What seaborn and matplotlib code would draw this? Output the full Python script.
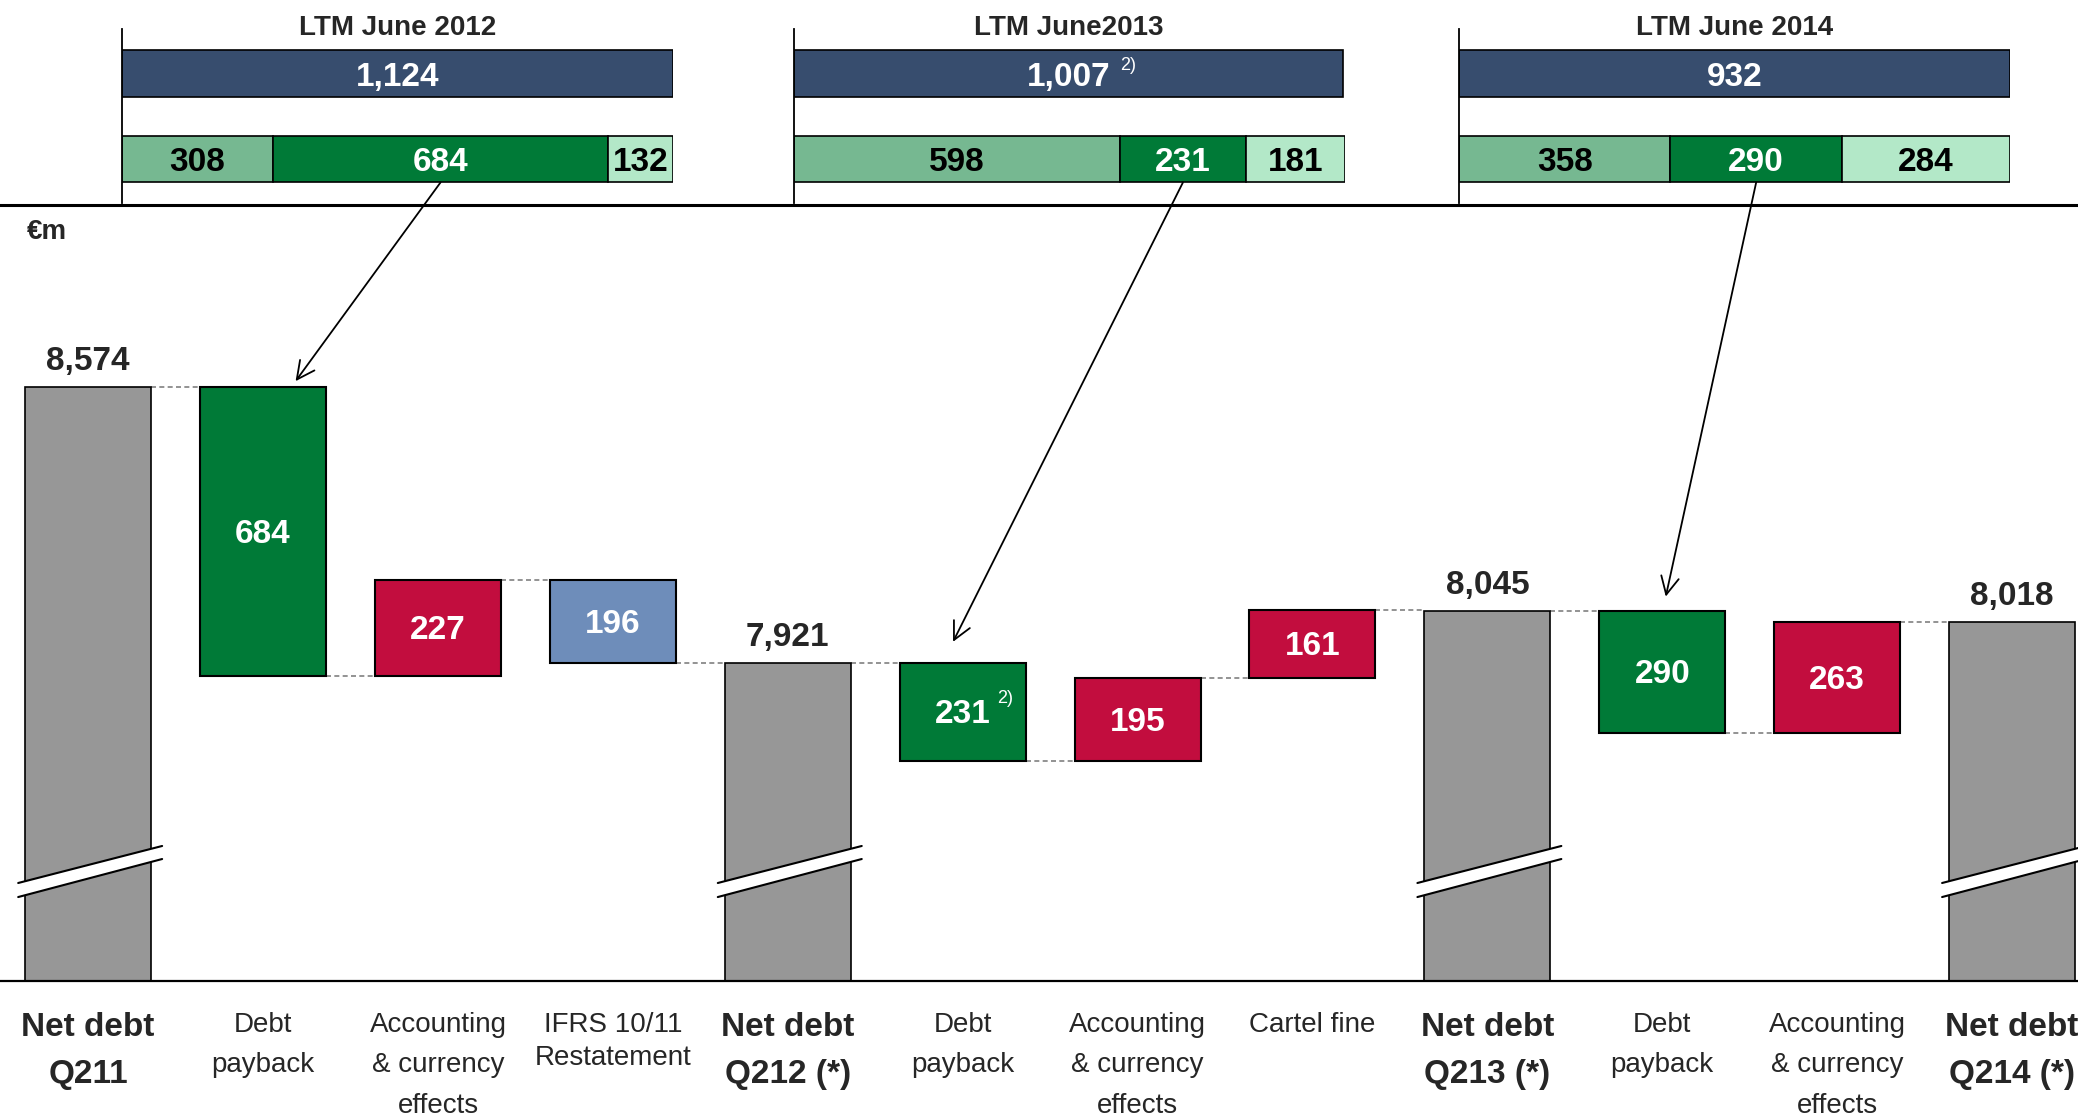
import numpy as np
import pandas as pd
import matplotlib
matplotlib.use("Agg")
import matplotlib.pyplot as plt
from matplotlib.patches import ConnectionPatch
import seaborn as sns

# estilo
sns.set_style("white")
plt.rcParams['font.family'] = ['Liberation Sans', 'DejaVu Sans']

# --------------------- datos ---------------------
step_labels = ["Net debt\nQ211", "Debt\npayback", "Accounting\n& currency\neffects",
               "IFRS 10/11\nRestatement", "Net debt\nQ212 (*)", "Debt\npayback",
               "Accounting\n& currency\neffects", "Cartel fine", "Net debt\nQ213 (*)",
               "Debt\npayback", "Accounting\n& currency\neffects", "Net debt\nQ214 (*)"]
step_kind = ["total", "decrease", "increase", "restatement", "total", "decrease",
             "increase", "increase", "total", "decrease", "increase", "total"]
step_values = [8574, -684, 227, -196, 7921, -231, 195, 161, 8045, -290, 263, 8018]
step_notes = {5: "2)"}

ltm_titles = ["LTM June 2012", "LTM June2013", "LTM June 2014"]
ltm_totals = [1124, 1007, 932]
ltm_splits = [[308, 684, 132], [598, 231, 181], [358, 290, 284]]
ltm_notes = {1: "2)"}
ltm_target = [1, 5, 9]   # barra de la cascada a la que apunta la flecha

kind_colors = {"total": "#979797", "decrease": "#007A37",
               "increase": "#C20D3E", "restatement": "#6E8DBA"}
navy = "#374D6E"
split_colors = ["#76B891", "#007A37", "#B3E8C8"]
split_text = ["black", "white", "black"]

y_floor = 7168

# --------------------- cálculo cascada ---------------------
level = 0
bottoms, heights, ends = [], [], []
for kind, v in zip(step_kind, step_values):
    if kind == "total":
        bottoms.append(y_floor)
        heights.append(v - y_floor)
        level = v
    else:
        start = level
        level = start + v
        bottoms.append(min(start, level))
        heights.append(abs(v))
    ends.append(level)
tops = [b + h for b, h in zip(bottoms, heights)]

df = pd.DataFrame({"step": range(len(step_values)), "height": heights})

fig = plt.figure(figsize=(20.78, 11.17), dpi=100)
ax = fig.add_axes([0, 0.12175, 1, 0.6947])

bw = 0.72
sns.barplot(data=df, x="step", y="height", bottom=np.array(bottoms), width=bw,
            color=kind_colors["total"], saturation=1, edgecolor="black",
            linewidth=1.5, errorbar=None, ax=ax, zorder=2)
for patch, kind in zip(ax.patches, step_kind):
    patch.set_facecolor(kind_colors[kind])
    if kind == "total":
        patch.set_linewidth(1.2)

# líneas de conexión
for i in range(len(step_values) - 1):
    ax.hlines(ends[i], i + bw / 2, i + 1 - bw / 2, colors="#808080",
              linestyles=(0, (3, 2)), linewidth=1.2, zorder=1)

# etiquetas de valores
for i, (kind, v) in enumerate(zip(step_kind, step_values)):
    txt = f"{abs(v):,}"
    if kind == "total":
        ax.annotate(txt, (i, tops[i]), xytext=(0, 7), textcoords="offset points",
                    ha="center", va="bottom", fontsize=24, fontweight="bold", zorder=5)
    else:
        yc = bottoms[i] + heights[i] / 2
        ax.annotate(txt, (i, yc), xytext=(0, -2), textcoords="offset points",
                    ha="center", va="center", fontsize=24,
                    fontweight="bold", color="white", zorder=5)
        if i in step_notes:
            ax.annotate(step_notes[i], (i, yc), xytext=(24.5, 9.5),
                        textcoords="offset points", ha="left", va="center",
                        fontsize=13, color="white", zorder=5)

# marcas de corte en las barras totales
trans = ax.get_xaxis_transform()
for i, kind in enumerate(step_kind):
    if kind != "total":
        continue
    xl, xr = i - 0.40, i + 0.423
    ax.fill([xl, xr, xr, xl], [0.1263, 0.174, 0.1572, 0.1082], color="white",
            lw=0, transform=trans, zorder=3)
    ax.plot([xl, xr], [0.1263, 0.174], color="black", lw=1.5, transform=trans, zorder=4)
    ax.plot([xl, xr], [0.1082, 0.1572], color="black", lw=1.5, transform=trans, zorder=4)

ax.set_xlim(-0.504, 11.377)
ax.set_ylim(y_floor, 9005)
ax.set_yticks([])
ax.set_xticks(range(len(step_labels)))
ax.set_xticklabels(step_labels)
ax.tick_params(axis="x", length=0, pad=22)
for lbl, kind, name in zip(ax.get_xticklabels(), step_kind, step_labels):
    if kind == "total":
        lbl.set_fontweight("bold")
        lbl.set_fontsize(24)
        lbl.set_linespacing(1.69)
    else:
        lbl.set_fontsize(20)
        lbl.set_linespacing(1.37 if name.startswith("IFRS") else 1.74)
ax.set_xlabel("")
ax.set_ylabel("")
for s in ["left", "right"]:
    ax.spines[s].set_visible(False)
ax.spines["top"].set_linewidth(2.2)
ax.spines["bottom"].set_linewidth(1.6)
ax.spines["top"].set_color("black")
ax.spines["bottom"].set_color("black")

fig.text(27 / 2078, 1 - 232 / 1117, "€m", fontsize=20, fontweight="bold",
         ha="left", va="center")

# --------------------- panel superior LTM ---------------------
lefts = [0.05866, 0.38195, 0.70202]
for k in range(3):
    tax = fig.add_axes([lefts[k], 0.81826, 0.26516, 0.15578])
    total = ltm_totals[k]
    parts = ltm_splits[k]
    sns.barplot(x=[total], y=[0.0], orient="y", native_scale=True, width=0.54,
                color=navy, saturation=1, edgecolor="black", linewidth=1.2,
                errorbar=None, ax=tax)
    tax.annotate(f"{total:,}", (total / 2, 0.0), xytext=(0, -2.5),
                 textcoords="offset points", ha="center", va="center", fontsize=24,
                 fontweight="bold", color="white")
    if k in ltm_notes:
        tax.annotate(ltm_notes[k], (total / 2, 0.0), xytext=(37, 5.5),
                     textcoords="offset points", ha="left", va="center",
                     fontsize=13, color="white")
    left = 0
    for j, p in enumerate(parts):
        sns.barplot(x=[p], y=[1.0], orient="y", native_scale=True, width=0.54,
                    left=left, color=split_colors[j], saturation=1,
                    edgecolor="black", linewidth=1.2, errorbar=None, ax=tax)
        tax.annotate(f"{p:,}", (left + p / 2, 1.0), xytext=(0, -2.5),
                     textcoords="offset points", ha="center", va="center",
                     fontsize=24, fontweight="bold", color=split_text[j])
        left += p
    tax.set_xlim(0, max(total, sum(parts)))
    tax.set_ylim(1.51, -0.52)
    tax.set_xticks([])
    tax.set_yticks([])
    tax.set_xlabel("")
    tax.set_ylabel("")
    for s in ["top", "right", "bottom"]:
        tax.spines[s].set_visible(False)
    tax.spines["left"].set_linewidth(1.3)
    tax.spines["left"].set_color("black")
    tax.patch.set_alpha(0)
    tax.text(0.5, 1.008, ltm_titles[k], transform=tax.transAxes, ha="center",
             va="center", fontsize=20, fontweight="bold")

    # flecha hacia la barra de amortización
    tgt = ltm_target[k]
    dx = [0.186, -0.055, 0.02][k]
    gap = [14, 50, 33][k]
    con = ConnectionPatch(xyA=(parts[0] + parts[1] / 2, 1.27), coordsA=tax.transData,
                          xyB=(tgt + dx, tops[tgt] + gap), coordsB=ax.transData,
                          arrowstyle="->", color="black", lw=1.3, mutation_scale=32)
    con.set_clip_on(False)
    fig.add_artist(con)

fig.savefig("out.png", dpi=100)
